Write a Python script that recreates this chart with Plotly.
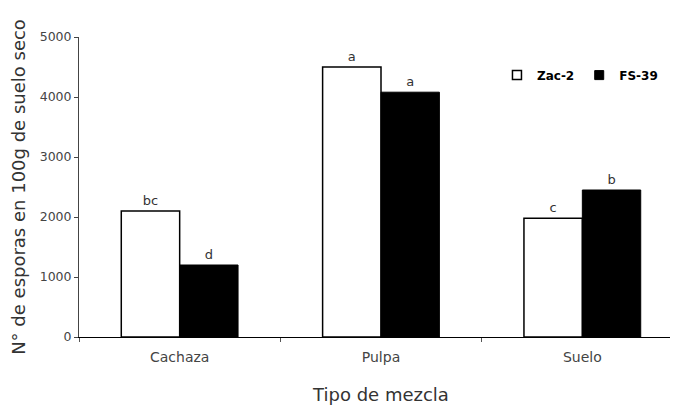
import plotly.graph_objects as go

categories = ["Cachaza", "Pulpa", "Suelo"]
zac2 = [2100, 4500, 1980]
fs39 = [1200, 4080, 2450]
zac2_letters = ["bc", "a", "c"]
fs39_letters = ["d", "a", "b"]
y_ticks = [0, 1000, 2000, 3000, 4000, 5000]

font_family = "DejaVu Sans, Verdana, sans-serif"

fig = go.Figure()
fig.add_trace(go.Bar(
    name="Zac-2", x=categories, y=zac2, text=zac2_letters,
    textposition="outside", cliponaxis=False, showlegend=False,
    textfont=dict(size=13, color="#333333", family=font_family),
    marker=dict(color="white", line=dict(color="black", width=1.5)),
))
fig.add_trace(go.Bar(
    name="FS-39", x=categories, y=fs39, text=fs39_letters,
    textposition="outside", cliponaxis=False, showlegend=False,
    textfont=dict(size=13, color="#333333", family=font_family),
    marker=dict(color="black", line=dict(color="black", width=1)),
))
# legend entries
fig.add_trace(go.Scatter(
    name="Zac-2", x=[None], y=[None], mode="markers",
    marker=dict(symbol="square", size=9, color="white", line=dict(color="black", width=1.5)),
))
fig.add_trace(go.Scatter(
    name="FS-39", x=[None], y=[None], mode="markers",
    marker=dict(symbol="square", size=9, color="black", line=dict(color="black", width=1)),
))

fig.update_layout(
    width=678, height=405,
    margin=dict(l=71, r=3, t=29, b=76),
    paper_bgcolor="white", plot_bgcolor="white",
    barmode="group", bargap=0.42, bargroupgap=0,
    font=dict(family=font_family, color="#333333"),
    showlegend=True,
    legend=dict(
        orientation="h", x=0.692, y=0.873, xanchor="left", yanchor="middle",
        font=dict(size=12, color="black", family="DejaVu Sans, sans-serif", weight="bold"),
        bgcolor="rgba(0,0,0,0)", traceorder="normal",
    ),
    xaxis=dict(
        automargin=False, range=[-0.5, 2.5],
        showline=True, linecolor="black", linewidth=1,
        ticks="outside", tickson="boundaries", ticklen=4, tickcolor="#555555",
        ticklabelstandoff=7,
        tickfont=dict(size=14, color="#444444"),
        title=dict(text="Tipo de mezcla", font=dict(size=18, color="#333333"), standoff=24),
        showgrid=False, zeroline=False,
    ),
    yaxis=dict(
        automargin=False, range=[0, 5000], tickvals=y_ticks,
        showline=True, linecolor="#444444", linewidth=1,
        ticks="outside", ticklen=4, tickcolor="#444444",
        tickfont=dict(size=12.5, color="#444444"),
        title=dict(text="N° de esporas en 100g de suelo seco", font=dict(size=18, color="#333333"), standoff=11),
        showgrid=False, zeroline=False,
    ),
)

fig.write_html("out.html")
